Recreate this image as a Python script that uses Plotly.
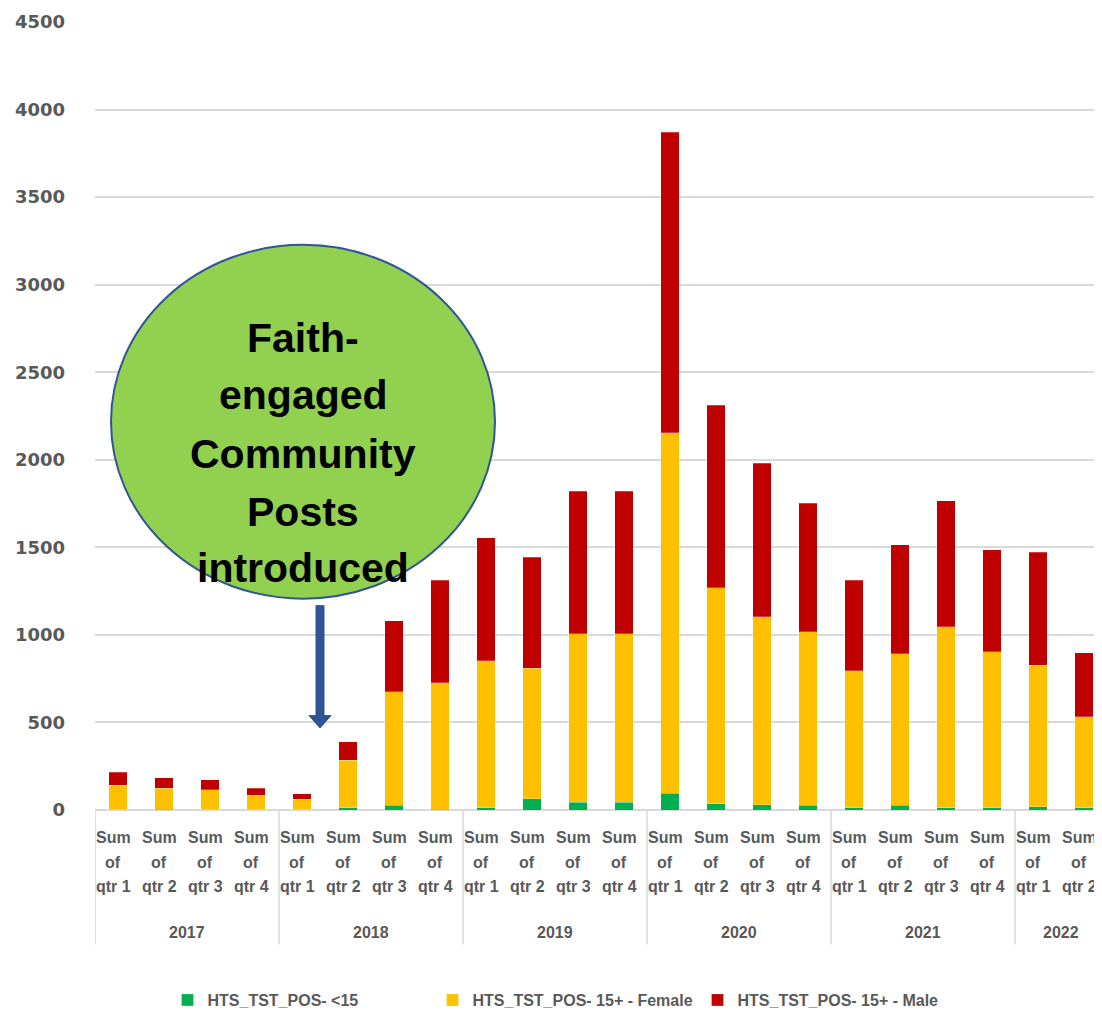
import plotly.graph_objects as go

years = ["2017", "2018", "2019", "2020", "2021", "2022"]
quarters_per_year = [4, 4, 4, 4, 4, 2]
quarter_labels = ["Sum of qtr 1", "Sum of qtr 2", "Sum of qtr 3", "Sum of qtr 4"]

under15 = [2, 3, 2, 2, 1, 14, 26, 5, 14, 65, 45, 45, 96, 37, 31, 26, 14, 26, 14, 14, 20, 14]
female15 = [140, 120, 115, 81, 61, 270, 650, 723, 839, 745, 962, 962, 2058, 1231, 1072, 993, 782, 865, 1033, 891, 807, 518]
male15 = [74, 61, 55, 40, 32, 107, 404, 585, 702, 633, 814, 814, 1717, 1042, 878, 734, 516, 624, 718, 582, 646, 365]

series_names = ["HTS_TST_POS- <15", "HTS_TST_POS- 15+ - Female", "HTS_TST_POS- 15+ - Male"]
series_colors = ["#00B050", "#FFC000", "#C00000"]
y_ticks = [0, 500, 1000, 1500, 2000, 2500, 3000, 3500, 4000, 4500]

# category list
cat_year = []
cat_q = []
for yr, n in zip(years, quarters_per_year):
    for k in range(n):
        cat_year.append(yr)
        cat_q.append(quarter_labels[k])
xs = list(range(len(cat_q)))

OFF = 8  # page body margin
W, H = 1102 - OFF, 1016 - OFF
L, T = 95 - OFF, 22 - OFF
B_PX = 810.5 - OFF
plot_w = W - L
plot_h = B_PX - T

def px_x(p):  # page pixel -> paper
    return (p - OFF - L) / plot_w

def px_y(p):
    return (B_PX - (p - OFF)) / plot_h

GRAY = "#595959"
fig = go.Figure()
for name, vals, col in zip(series_names, [under15, female15, male15], series_colors):
    fig.add_trace(go.Bar(
        x=xs, y=vals, name=name, marker=dict(color=col, line=dict(color="rgba(255,255,255,0.5)", width=0.5)),
    ))

annotations = []
shapes = []
# category labels (3 lines each)
line_px = [838, 862.5, 887]
for i, q in enumerate(cat_q):
    parts = q.split(" ")
    lines = [parts[0], parts[1], " ".join(parts[2:])]
    for ln, p in zip(lines, line_px):
        annotations.append(dict(x=i, y=0, xref="x", yref="paper", yshift=-(p - OFF - B_PX), xshift=-5,
                                text=ln, showarrow=False, xanchor="center", yanchor="middle",
                                font=dict(family="Liberation Sans", size=16, color=GRAY, weight="bold")))
# year labels + dividers
start = 0
for yr, n in zip(years, quarters_per_year):
    center = start + (n - 1) / 2
    annotations.append(dict(x=center, y=0, xref="x", yref="paper", yshift=-(933 - OFF - B_PX),
                            text=yr, showarrow=False, xanchor="center", yanchor="middle",
                            font=dict(family="Liberation Sans", size=16, color=GRAY, weight="bold")))
    shapes.append(dict(type="line", xref="x", yref="paper", x0=start - 0.5, x1=start - 0.5,
                       y0=0, y1=px_y(945), line=dict(color="#D9D9D9", width=1.5)))
    start += n

# callout ellipse
shapes.append(dict(type="circle", xref="paper", yref="paper",
                   x0=px_x(111), x1=px_x(495), y0=px_y(599), y1=px_y(245),
                   fillcolor="#92D050", line=dict(color="#2F5597", width=2), layer="above"))
callout = ["Faith-", "engaged", "Community", "Posts", "introduced"]
callout_px = [338, 395, 454, 512, 568]
for t, p in zip(callout, callout_px):
    annotations.append(dict(x=px_x(303), y=px_y(p), xref="paper", yref="paper", text=t,
                            showarrow=False, xanchor="center", yanchor="middle",
                            font=dict(family="Liberation Sans", size=41, color="black", weight="bold")))
# block arrow
pts = [(316, 606), (324, 606), (324, 716), (331, 716), (320, 728.5), (309, 716), (316, 716)]
path = "M " + " L ".join(f"{px_x(a):.5f},{px_y(b):.5f}" for a, b in pts) + " Z"
shapes.append(dict(type="path", xref="paper", yref="paper", path=path,
                   fillcolor="#2F5597", line=dict(color="#2F5597", width=1), layer="above"))

fig.update_layout(
    width=W, height=H,
    margin=dict(l=L, r=0, t=T, b=H - B_PX, autoexpand=False),
    plot_bgcolor="white", paper_bgcolor="white",
    barmode="stack", bargap=0.6,
    showlegend=True,
    legend=dict(orientation="h", traceorder="normal",
                entrywidth=220, entrywidthmode="pixels",
                xref="container", x=(565 - OFF) / W, xanchor="center",
                yref="container", y=(H - (1000 - OFF)) / H, yanchor="middle",
                font=dict(family="Liberation Sans", size=16, color=GRAY, weight="bold")),
    xaxis=dict(range=[-0.5, -0.5 + plot_w / 46.0], showticklabels=False, showgrid=False,
               zeroline=False, showline=False, fixedrange=True),
    yaxis=dict(range=[0, 4500], tickvals=y_ticks, showgrid=True, gridcolor="#D9D9D9", gridwidth=1.5,
               zeroline=True, zerolinecolor="#D9D9D9", zerolinewidth=1.5, showline=False,
               ticks="", ticklabelstandoff=29,
               tickfont=dict(family="DejaVu Sans", size=18, color=GRAY, weight="bold")),
    annotations=annotations,
    shapes=shapes,
)

fig.write_html("out.html")
